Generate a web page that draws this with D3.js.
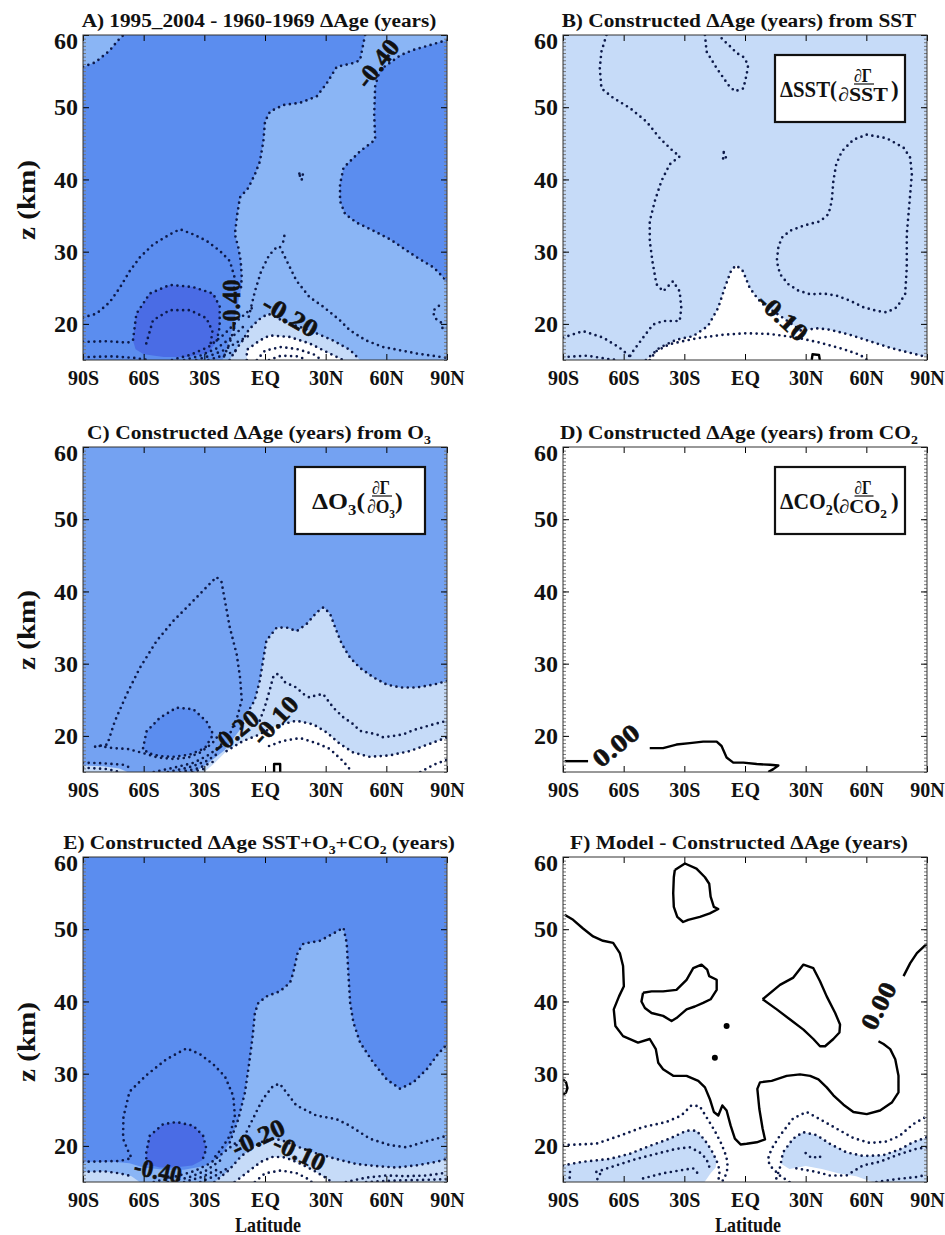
<!DOCTYPE html>
<html>
<head>
<meta charset="utf-8">
<script src="https://cdnjs.cloudflare.com/ajax/libs/d3/7.8.5/d3.min.js"></script>
<style>
  body { margin: 0; background: #fff; }
  svg text { font-family: "Liberation Serif", "Times New Roman", serif; font-weight: bold; fill: #111; }
  .dot { fill: none; stroke: #0d1a4a; stroke-width: 2.7; stroke-dasharray: 0 5.7; stroke-linecap: round; stroke-linejoin: round; }
  .solid { fill: none; stroke: #000; stroke-width: 2.4; stroke-linejoin: round; }
  .clab { stroke: #111; stroke-width: 0.6; }
</style>
</head>
<body>
<svg id="fig" width="945" height="1235"></svg>
<script>
// ---- axes values
const latTicks = [-90, -60, -30, 0, 30, 60, 90];
const latLabels = ["90S", "60S", "30S", "EQ", "30N", "60N", "90N"];
const zTicks = [20, 30, 40, 50, 60];

// fill colours (contour bands)
const shade = { D: "#4a6ce5", M: "#5b8def", C: "#74a2f2", L: "#8ab5f5", P: "#c6dbf8", W: "#ffffff" };

// ---- panel A : [lat, z] points
const A_cornerLine = [[-90,55.6],[-84,56.2],[-77,57.8],[-72.5,59.3],[-70,60]];
const A_lightWest = [[49.5,60],[47,56.5],[43.5,56.1],[35.5,55.6],[30.5,53.3],[25.6,51.5],[17.3,50.6],[9.1,50.3],[2.5,49.4],[0,48],[-0.8,45.3],[-2.5,42.5],[-5,40.7],[-8.3,38.8],[-12.4,37.5],[-13.7,35.2],[-14.9,32.4],[-13.2,30.6],[-12,28.7],[-11.5,26.4],[-12,24.6]];
const A_lightEast = [[90,59.3],[73,57.9],[67,57.2],[57,55.2],[54.5,53],[54,49],[54.5,45.5],[47,43.9],[38.8,41.6],[37.1,39.3],[37.1,37],[39.6,35.2],[45.4,34],[53.6,32.9],[61.9,31.7],[75.1,29.2],[83.4,27.8],[88.3,26.4],[90,25.7]];
const A_arch = [[-90,20.9],[-83.4,21.4],[-76.8,23],[-71.8,25],[-66.9,27.3],[-61.9,29.2],[-55.3,31],[-47,32.4],[-42.1,33.1],[-35.5,32.4],[-28.9,31.5],[-22.3,30.1],[-17.4,28.7],[-15,26.4],[-15.3,25]];
const A_archFoot = [[-15.5,19.2],[-17.5,17.3],[-19.5,16],[-21,15]];
const A_darkOuter = [[-90,17.5],[-78,17.6],[-68,17.4],[-65.3,17.7],[-63.6,21.4],[-57,24.2],[-47,25.4],[-35.6,25.1],[-25.7,24.2],[-22.4,22.4],[-22.4,19.6],[-24,17.5]];
const A_darkFill = [[-65.3,17.7],[-63.6,21.4],[-57,24.2],[-47,25.4],[-35.6,25.1],[-25.7,24.2],[-22.4,22.4],[-22.4,19.6],[-24,17.5],[-28,16],[-38,15.4],[-50,15.4],[-60,15.8],[-64,16.5]];
const A_darkInner = [[-58.7,17.3],[-55.4,20.5],[-47.1,21.9],[-37.2,21.9],[-29,20.8],[-26,19],[-27,17]];
const A_bottomLine = [[-90,15.4],[-75,15.5],[-65,15.3],[-58,15]];
const A_paleEdge = [[-17.5,15],[-14,16.6],[-11,17.7],[-8,19.2],[-3,20.6],[1.5,21.4],[5,21],[10,20.2],[17.2,19.6],[25.4,18.7],[33.7,17.7],[42,16.4],[47,15]];
const A_whiteEdge = [[-9,15],[-9,16.4],[-2.6,17.7],[2.3,18.4],[12,18.2],[22,17.3],[32,15.9],[38.6,15]];
const A_tongue = [[-8,21],[-5,24.5],[-2,27.2],[2,29.5],[5.7,30.6],[7.3,30.7],[10.6,28.8],[15.5,26],[22,23.7],[28.7,22.4],[37,20.5],[42,19.1],[50,17.7],[58.4,16.8],[75,15.9],[90,15.3]];
const A_hatch = [
  [[-46,15],[-37,15.7],[-28,16.8],[-20,18.6],[-13,20.6],[-6,22.3]],
  [[-40,15],[-32,15.6],[-24,16.6],[-17,18],[-10,19.8]],
  [[-34,15],[-27,15.6],[-20,16.4],[-13,17.6],[-7,18.5]],
  [[-28,15],[-21,15.6],[-14,16.3]],
  [[-4,15],[0,16.3],[8,16.8],[16,16.5],[24,15.8],[28,15]],
  [[2,15],[8,15.6],[16,15.5],[21,15]]
];
const A_bits = [[[9,31.4],[9.8,32.5]], [[17,40.8],[18.5,41],[19,40.2],[17.8,39.9],[17,40.8]], [[86,22.5],[83,21.8],[84,20.8],[87,20.2],[88,19.2]]];
const A_labels = [["-0.40", 55.5, 56.1], ["-0.40", -16.6, 22.7], ["-0.20", 12.6, 21.1]];

// ---- panel B
const B_westLine = [[-68.5,60],[-71,57.7],[-71.8,55.4],[-71,52.6],[-65.2,51.3],[-57,49.9],[-48.7,48],[-42.1,45.7],[-35.5,43.9],[-32.2,43.2],[-37.2,42.1],[-41.3,39.8],[-44.6,37],[-47.1,34.2],[-47.1,31.5],[-45.8,28.7],[-43.8,25.5],[-40.5,24.5],[-35.6,25.9],[-32.3,24.5],[-31.5,22.2],[-32.3,20.4],[-40.5,20.4],[-45.5,19.9],[-50.4,18.1],[-55.4,16.2],[-58,15]];
const B_loopTop = [[-19.8,60],[-19,57.7],[-14,55.4],[-8.3,53.1],[-5,52.2],[-0.8,52.6],[0.8,54.5],[1.6,55.9],[-1,57],[-4.1,57.5],[-8,58.6],[-10.8,59.3],[-13,60]];
const B_loopEast = [[60.2,46.2],[70.1,45.7],[78.4,44.4],[81.7,43],[82.5,40.7],[81.4,37],[80,32.4],[80,27.8],[79.2,24.1],[75.1,22.3],[70.1,21.6],[65.2,21.8],[58.6,22.3],[52,23.2],[45.4,23.9],[38.8,24.2],[32.2,24.1],[26.4,24.6],[21.4,25.5],[17.3,26.9],[15.7,28.7],[16.5,30.6],[18.1,31.9],[22.3,32.9],[28.9,33.6],[37.1,34.2],[41.3,35.2],[42.9,37],[43.7,39.8],[45.1,42.1],[47.9,43.9],[53.6,45.5],[60.2,46.2]];
const B_whiteEdge = [[-49,15],[-42.2,16.7],[-34,17.8],[-25.7,18.3],[-18.3,19.7],[-13.3,22.2],[-10,25],[-6.7,27.5],[-4.3,28.1],[-1,27.3],[2.3,25],[6.5,23.4],[9.8,22.5],[19,20.8],[28,19],[35,19.4],[41.9,19.2],[51.8,18.5],[61.7,17.6],[71.6,16.7],[81.5,16],[90,15.4]];
const B_innerArch = [[-47.1,15],[-44,16.2],[-37.2,17.2],[-24,18],[-10.8,18.5],[0.8,18.7],[12.4,18.6],[25.6,18.1],[37.1,17.4],[48.7,16.5],[57,15.7],[60.2,15]];
const B_leftLine = [[-90,18.1],[-80.1,19],[-70.2,18.1],[-62,16.7],[-57,15.5],[-56,15]];
const B_bottomLine = [[-90,15.4],[-78,15.6],[-67,15.1],[-63,15]];
const B_bits = [[[-10.5,43.8],[-9.4,43],[-10.9,42.7],[-10.5,43.8]]];
const B_hump = [[33,15],[33.4,15.8],[36.6,15.7],[37,15]];
const B_labels = [["-0.10", 18.8, 21]];

// ---- panel C
const C_paleEdge = [[-12,21],[-9,23],[-5,25],[-2.6,27.6],[0.7,33.2],[3.3,34.1],[5.8,35],[10.7,35],[15.7,34.5],[20.6,35.5],[25.6,37.1],[28.9,37.8],[32.2,36.9],[34.7,35],[38,32.7],[42.1,30.8],[47,29.4],[53.6,28.1],[60.2,27.1],[66.8,26.7],[75.1,26.7],[83.4,27.1],[90,27.6]];
const C_whiteEdge = [[-19,17.9],[-10.8,19.3],[-4.3,20],[5.6,21.4],[15.5,22.1],[23.8,21.6],[30.4,20.5],[37,18.9],[43.6,17.7],[51.8,17.1],[61.7,17.3],[71.6,17.9],[81.5,18.9],[90,19.8]];
const C_beta = [[-2.6,22.1],[-0.1,24],[2.3,26.3],[4,28.1],[5.6,28.6],[7.4,28.4],[10,27.4],[15.5,26.7],[19,25.8],[22.1,25.3],[25,25.6],[28.7,25.8],[33.8,23.9],[38.6,22.6],[43.7,21.6],[46.9,20.7],[55.3,20.2],[58.4,19.8],[63.5,20],[68.3,20.2],[73.4,20.8],[78.2,21.2],[83.4,21.6],[90,22.1]];
const C_delta = [[2,18.6],[8.9,19.3],[17.3,19.7],[22.1,19.3],[27.2,18.8],[32,18.2],[38.6,16.5],[41.9,15.4],[42.5,15]];
const C_edgeSE = [[76.8,15],[83.4,16],[90,16.7]];
const C_tall = [[-84,18.5],[-78,18.8],[-74.3,22],[-68.5,25.7],[-61.9,29.4],[-53.7,33.1],[-45.4,35.9],[-37.2,38.2],[-28.9,40.6],[-24,42],[-21.5,41.3],[-19.8,38.7],[-17.4,35],[-14,31.3],[-12.3,28],[-11.5,25],[-13.5,22.8],[-17,20.5]];
const C_under = [[-81.7,18.6],[-75,18.3],[-68,18.2],[-60,17.6],[-53,17],[-45,16.8],[-38,17],[-32,17.7],[-26,19],[-21,20.8]];
const C_blob = [[-60.3,18.3],[-58.6,20.6],[-52,22.5],[-43.8,23.9],[-35.5,23.7],[-28.9,22],[-25.6,20.2],[-29.7,18.3],[-37.2,17.4],[-45.4,17.1],[-52,17.2],[-57.8,17.6],[-60.3,18.3]];
const C_strip = [[-90,15],[-90,15.9],[-80,15.8],[-72,15.5],[-68,15]];
const C_hatch = [
  [[-90,16.3],[-80,16.2],[-70,16],[-66,15.5]],
  [[-90,15.6],[-78,15.4],[-72,15]],
  [[-55,15],[-45,15.6],[-35,16.3],[-27,17.5],[-20,19.2]],
  [[-48,15],[-38,15.6],[-29,16.5],[-22,17.8]],
  [[-42,15],[-33,15.5],[-25,16.5]],
  [[-36,15],[-28,15.6]]
];
const C_marker = [[4.5,15],[4.5,16.1],[7.5,16.1],[7.5,15]];
const C_labels = [["-0.20", -15, 20.6], ["-0.10", 4.8, 22.2]];

// ---- panel D
const D_zeroWest = [[-89.2,16.5],[-77.6,16.5]];
const D_zeroMid = [[-47.1,18.3],[-40.5,18.3],[-33.9,18.8],[-27.3,19],[-20.7,19.2],[-14,19.2],[-11.6,18.6],[-9.1,17],[-5.8,16.3],[-0.8,16.3],[5.8,16.1],[12.4,16],[16.5,15.9],[14,15.4],[11.5,15]];
const D_labels = [["0.00", -63.9, 18.7]];

// ---- panel E
const E_lightEdge = [[-17.4,20.5],[-13.2,23.7],[-9.9,27.4],[-7.8,31.5],[-6.1,35.2],[-5,38.4],[-3.3,39.8],[0.8,40.7],[7.4,41.4],[12.4,42.6],[14,44],[16.2,46.8],[19,48],[27.2,48.4],[33.8,49.4],[38.8,50.2],[40.4,48.1],[41.3,43.5],[42.1,39.8],[43.7,37.1],[47,34.3],[53.6,31.5],[60.2,29.2],[66.8,27.9],[73.4,28.8],[80,30.6],[85,32.5],[90,34.1]];
const E_darkLine = [[-58.7,17.5],[-58.7,19.1],[-57,21.4],[-50.4,23],[-43.8,23.3],[-35.5,22.8],[-30.6,21.4],[-29,19.6],[-31,18]];
const E_darkFill = [[-58.7,17.5],[-58.7,19.1],[-57,21.4],[-50.4,23],[-43.8,23.3],[-35.5,22.8],[-30.6,21.4],[-29,19.6],[-31,18],[-36,17.3],[-45,17],[-52,17]];
const E_arch = [[-90,17.8],[-72,17.9],[-66,18.3],[-68,19.5],[-70.2,21],[-70,24],[-67,27.5],[-58.6,29.8],[-48.7,32],[-38.8,33.5],[-32.2,32.7],[-25.6,31.3],[-19.8,29.6],[-15.7,26.9],[-14.9,24.2],[-17.4,21.4],[-21.5,19.6],[-25.6,18.2]];
const E_gamma = [[-14.1,20.1],[-9.2,21.9],[-4.3,24.7],[-1,26.5],[4,28.3],[7.3,28.6],[10.6,27.4],[15.5,25.6],[25.4,24.2],[35.3,23.7],[41.9,22.8],[51.8,21],[61.7,20.1],[69.9,19.8],[78.2,20.5],[84.8,21],[90,21.4]];
const E_paleEdge = [[-25,15],[-18,16.6],[-12,18.5],[-6,19.8],[0,20.8],[5,21],[10,20.6],[17,19.8],[25,19],[35,18.2],[45,17.5],[55,17.2],[65,17],[75,17.3],[85,17.8],[90,18.2]];
const E_whiteEdge = [[-15,15],[-8,16.5],[-2,17.8],[4,18.5],[10,18.4],[17,17.6],[24,16.6],[30,15.6],[33,15]];
const E_strip = [[-90,15],[-90,16.4],[-80,16.5],[-72,16.2],[-66,15.8],[-62,15]];
const E_hatch = [
  [[-90,16.4],[-80,16.5],[-72,16.2],[-66,15.8]],
  [[-55,15],[-45,15.7],[-35,16.5],[-27,17.6],[-20,19.2],[-14,20.5]],
  [[-48,15],[-38,15.6],[-29,16.6],[-22,18]],
  [[-40,15],[-31,15.7],[-23,16.8]],
  [[-32,15],[-25,15.8],[-18,17]],
  [[-5,15],[0,16.2],[8,16.6],[16,16.2],[22,15.3],[23,15]],
  [[40,15],[50,15.6],[60,15.9],[70,15.8],[80,15.9],[90,16.3]],
  [[50,15],[65,15.2],[80,15.3],[90,15.4]]
];
const E_labels = [["-0.40", -52.9, 16.6], ["-0.20", -3.5, 21.2], ["-0.10", 17.1, 19.1]];

// ---- panel F
const F_loopTop = [[-34.7,58.2],[-29.7,59.1],[-24,58.4],[-19.8,57.2],[-17.7,56.3],[-17,54.5],[-15.4,53.1],[-13.2,52.8],[-17.4,52.2],[-22.3,51.7],[-28.1,51.3],[-30.6,51],[-33.5,51.7],[-35.2,53.1],[-35.5,55],[-35.2,57.2],[-34.7,58.2]];
const F_zeroMain = [[-89.2,52],[-85,51.3],[-80.1,50.1],[-75.1,49],[-70.2,48.4],[-65.2,48.1],[-61.9,46.7],[-60.3,44.9],[-59.9,42.1],[-62.3,40.7],[-64.9,38.9],[-64.1,36.6],[-60.3,35.2],[-52.9,34.3],[-47.1,34.8],[-44.1,33.4],[-42.9,31.5],[-40.5,30.6],[-35.5,29.7],[-28.9,29.7],[-23.1,29],[-19.8,28.1],[-17.4,26.5],[-15.4,24.7],[-13.2,24.2],[-11.2,25.6],[-9.1,24.9],[-7.1,22.8],[-5,21],[-2.2,20.2],[0.8,20.3],[5.8,20.5],[9.9,20.9],[8.7,22.4],[7.1,25.1],[6.1,27.9],[7.4,28.8],[13.2,29],[20.6,29.7],[27.2,29.9],[32.2,29.7],[36.3,29.2],[40.4,28.1],[43.7,27],[48.7,25.7],[53.6,24.7],[60.2,24.4],[66.8,24.9],[72.6,26],[75.9,27.4],[75.9,29.7],[74.3,32],[71.8,33.4],[68.5,34.1],[66,34.5]];
const F_zeroEast = [[78.4,43.5],[81.7,45.3],[85,46.7],[89.2,47.8],[90,47.9]];
const F_loopWest = [[-50.4,41.2],[-46.2,41.4],[-40.5,41.4],[-33.9,41.6],[-28.9,43],[-25.6,44.6],[-21.5,45.1],[-18.7,44.4],[-17.7,43.5],[-14,43],[-14,41.6],[-17,40.3],[-20.7,39.8],[-24.8,39.3],[-28.9,38.9],[-33.9,37.7],[-36.3,37.3],[-40.5,38],[-46.2,38.4],[-49.5,39.1],[-51.2,40],[-50.4,41.2]];
const F_loopEast = [[8.7,40.3],[17.3,42.3],[23.9,43.3],[28.9,45.1],[33.8,44.6],[37.1,42.8],[40.4,40.7],[44.6,38.4],[47,36.8],[46.7,35.7],[43.7,34.8],[39.6,33.8],[37.1,33.8],[33.8,34.8],[28.9,36.1],[22.3,37.5],[15.7,38.9],[8.7,40.3]];
const F_edgeLoop = [[-90,29.2],[-88.5,28.8],[-87.8,28],[-88.5,27.4],[-90,27.1]];
const F_spots = [[-9.1,36.6],[-14.9,32.2]];
const F_d1 = [[-90,20.1],[-73.5,20.3],[-62,21.4],[-50.4,22.6],[-38.9,23.3],[-31.5,24.2],[-26.5,25.6],[-22.4,25.5],[-19.1,24],[-15,22.1],[-11.7,20.3],[-9.2,18.5],[-8.5,17],[-10,15.6],[-11.5,15]];
const F_d2 = [[-90,17.3],[-80.1,17.8],[-66.9,18.2],[-57,18.9],[-47.1,20],[-37.2,21],[-29,22.1],[-24,22.1],[-19.9,20.8],[-16.6,19.4],[-14.1,18],[-12.5,16.6],[-13,15.5],[-13.5,15]];
const F_d3 = [[-73.5,16.4],[-63.6,17.3],[-53.7,18.2],[-43.8,18.9],[-33.9,19.6],[-27.3,19.8],[-22.4,19.1],[-19.1,18.2],[-17.4,16.9]];
const F_d3b = [[-50.4,15.5],[-40.5,16.2],[-32.3,16.6],[-25.7,16.9],[-22.4,15.9]];
const F_d4 = [[22,15],[17.2,15.9],[12.2,17.3],[11.4,18.2],[13,19.5],[17.2,21.4],[23.8,23.8],[30.4,24.7],[37,23.7],[45.2,22.4],[53.5,21.1],[61.7,20.4],[69.9,20.6],[76.5,21.4],[83.1,23],[90,24.1]];
const F_d5 = [[15.5,15.5],[17.2,16.9],[18.8,19.1],[23.8,21],[28.7,21.9],[35.3,21.5],[41.9,20.3],[50.2,19.1],[58.4,18.6],[68.3,18.7],[76.5,19.5],[83.1,20.5],[90,21.2]];
const F_d6 = [[25.4,16.9],[35.3,16.4],[41.9,15.9],[50.2,15.9],[58.4,17.3],[66.7,17.8],[74.9,18.7],[84.8,19.6],[90,19.8]];
const F_bits = [[[30,19],[33,18.3],[37,18.6],[38,17.8]], [[65,15],[75,15.4],[85,15.7],[90,16]], [[-86.7,15.6],[-86.5,16.6]], [[-73,15.4],[-71.5,16.2]]];
const F_paleWest = [[-90,15],[-90,17.3],[-80.1,17.8],[-66.9,18.2],[-57,18.9],[-47.1,20],[-37.2,21],[-29,22.1],[-24,22.1],[-19.9,20.8],[-16.6,19.4],[-14.1,18],[-14.5,17],[-17,16.2],[-20,15]];
const F_paleEast = [[18.8,19.1],[23.8,21],[28.7,21.9],[35.3,21.5],[41.9,20.3],[50.2,19.1],[58.4,18.6],[68.3,18.7],[76.5,19.5],[83.1,20.5],[90,21.2],[90,15],[63,15],[55,15.8],[46,16.2],[38,16.8],[30,17.2],[22,16.8],[18,17.5]];
const F_labels = [["0.00", 65.9, 39.4]];

// ---- layout of the six panels
const PW = 364, PH = 325;
const panels = [
  { id: "A", x0: 83, y0: 35, bg: "M",
    title: [["A) 1995_2004 - 1960-1969 ΔAge (years)"]], titleW: 355,
    fills: [["L", [[-90, 60], ...A_cornerLine]],
            ["L", [[90, 60], ...A_lightEast, [90, 15], [-21, 15], [-18.5, 17], [-15.5, 20], ...[...A_lightWest].reverse()]],
            ["D", A_darkFill], ["P", A_paleEdge], ["W", A_whiteEdge]],
    dotted: [A_cornerLine, A_lightWest, A_lightEast, A_arch, A_archFoot, A_darkOuter, A_darkInner, A_bottomLine, A_paleEdge, A_whiteEdge, A_tongue, ...A_hatch, ...A_bits],
    solid: [], spots: [], labels: A_labels, rot: [-52, -90, 30], lw: [54, 50, 60], yTitle: 200 },
  { id: "B", x0: 563, y0: 35, bg: "P",
    title: [["B) Constructed ΔAge (years) from SST"]], titleW: 355,
    fills: [["W", [...B_whiteEdge, [90, 15]]]],
    dotted: [B_westLine, B_loopTop, B_loopEast, B_whiteEdge, B_innerArch, B_leftLine, B_bottomLine, ...B_bits],
    solid: [B_hump], spots: [], labels: B_labels, rot: [43], lw: [59],
    legend: { lead: [["ΔSST("]], den: [["∂SST"]], leadX: 5, leadW: 57, fracX: 88, numW: 18, denW: 50, closeX: 116 } },
  { id: "C", x0: 83, y0: 447, bg: "C",
    title: [["C) Constructed ΔAge (years) from O"], ["3", 1]], titleW: 344,
    fills: [["P", [[-35, 15], [-30, 15.8], [-20, 18], ...C_paleEdge, [90, 15]]],
            ["W", [[-30, 15], [-25, 16.2], ...C_whiteEdge, [90, 15]]],
            ["M", C_blob], ["P", C_strip]],
    dotted: [C_paleEdge, C_whiteEdge, C_beta, C_delta, C_edgeSE, C_tall, C_under, C_blob, ...C_hatch],
    solid: [C_marker], spots: [], labels: C_labels, rot: [-39, -47], lw: [54, 56], yTitle: 630,
    legend: { lead: [["ΔO"], ["3", 1], ["("]], den: [["∂O"], ["3", 1]], leadX: 17, leadW: 53, fracX: 86, numW: 18, denW: 28, closeX: 100 } },
  { id: "D", x0: 563, y0: 447, bg: "W",
    title: [["D) Constructed ΔAge (years) from CO"], ["2", 1]], titleW: 358,
    fills: [], dotted: [], solid: [D_zeroWest, D_zeroMid], spots: [],
    labels: D_labels, rot: [-39], lw: [53],
    legend: { lead: [["ΔCO"], ["2", 1], ["("]], den: [["∂CO"], ["2", 1]], leadX: 5, leadW: 60, fracX: 88, numW: 17, denW: 48, closeX: 116 } },
  { id: "E", x0: 83, y0: 857, bg: "M",
    title: [["E) Constructed ΔAge SST+O"], ["3", 1], ["+CO"], ["2", 1], [" (years)"]], titleW: 392,
    fills: [["L", [[-90, 15], [-90, 17.8], [-75, 17.8], [-67, 17.6], [-60, 17], [-50, 16.7], [-40, 16.7], [-30, 17.2], [-22, 18.5], ...E_lightEdge, [90, 15]]],
            ["D", E_darkFill], ["P", [...E_paleEdge, [90, 15]]], ["W", E_whiteEdge], ["P", E_strip]],
    dotted: [E_lightEdge, E_darkLine, E_arch, E_gamma, E_paleEdge, E_whiteEdge, ...E_hatch],
    solid: [], spots: [], labels: E_labels, rot: [12, -25, 25], lw: [48, 56, 55], yTitle: 1042, xTitle: true },
  { id: "F", x0: 563, y0: 857, bg: "W",
    title: [["F) Model - Constructed ΔAge (years)"]], titleW: 338,
    fills: [["P", F_paleWest], ["P", F_paleEast]],
    dotted: [F_d1, F_d2, F_d3, F_d3b, F_d4, F_d5, F_d6, ...F_bits],
    solid: [F_loopTop, F_zeroMain, F_zeroEast, F_loopWest, F_loopEast, F_edgeLoop],
    spots: F_spots, labels: F_labels, rot: [-63], lw: [50], xTitle: true }
];

const svg = d3.select("#fig");
const x = d3.scaleLinear().domain([-90, 90]).range([0, PW]);
const y = d3.scaleLinear().domain([15, 60]).range([PH, 0]);
const line = d3.line().x(d => x(d[0])).y(d => y(d[1]));
const ring = d3.line().x(d => x(d[0])).y(d => y(d[1])).curve(d3.curveLinearClosed);

// writes [text, isSub] parts into a text element
function addParts(t, parts, size) {
  let low = false;
  parts.forEach(([s, sub]) => {
    const ts = t.append("tspan").text(s);
    if (sub && !low) { ts.attr("dy", size * 0.25).style("font-size", (size * 0.65) + "px"); low = true; }
    else if (sub) ts.style("font-size", (size * 0.65) + "px");
    else if (low) { ts.attr("dy", -size * 0.25); low = false; }
  });
}

// stretch a text horizontally to the width seen in the figure
function fitText(t, cx, cy, w, rot) {
  const k = w / t.node().getComputedTextLength();
  t.attr("transform", `translate(${cx},${cy}) rotate(${rot || 0}) scale(${k},1)`);
}

panels.forEach(p => {
  const g = svg.append("g").attr("transform", `translate(${p.x0},${p.y0})`);
  g.append("clipPath").attr("id", "clip" + p.id)
    .append("rect").attr("width", PW).attr("height", PH);
  const plot = g.append("g").attr("clip-path", `url(#clip${p.id})`);

  plot.append("rect").attr("width", PW).attr("height", PH).attr("fill", shade[p.bg]);
  p.fills.forEach(([k, pts]) => plot.append("path").attr("d", ring(pts)).attr("fill", shade[k]));
  p.dotted.forEach(pts => plot.append("path").attr("class", "dot").attr("d", line(pts)));
  p.solid.forEach(pts => plot.append("path").attr("class", "solid").attr("d", line(pts)));
  plot.selectAll("circle.spot").data(p.spots).enter().append("circle")
    .attr("cx", d => x(d[0])).attr("cy", d => y(d[1])).attr("r", 3).attr("fill", "#000");

  // contour labels
  p.labels.forEach((d, i) => {
    const t = plot.append("text").attr("class", "clab").attr("text-anchor", "middle").attr("dy", "0.35em")
      .style("font-size", "25px").text(d[0]);
    fitText(t, x(d[1]), y(d[2]), p.lw[i], p.rot[i]);
  });

  // legend box
  if (p.legend) {
    const L = p.legend, bx = 212, by = 20;
    g.append("rect").attr("x", bx).attr("y", by).attr("width", 130).attr("height", 67)
      .attr("fill", "#fff").attr("stroke", "#111").attr("stroke-width", 2.2);
    const lead = g.append("text").style("font-size", "23px");
    addParts(lead, L.lead, 23);
    fitText(lead, bx + L.leadX, by + 42, L.leadW);
    const num = g.append("text").attr("text-anchor", "middle").style("font-size", "18px").text("∂Γ");
    fitText(num, bx + L.fracX, by + 27, L.numW);
    g.append("line").attr("x1", bx + L.fracX - L.numW / 2).attr("x2", bx + L.fracX + L.numW / 2 + 2)
      .attr("y1", by + 29).attr("y2", by + 29).attr("stroke", "#111").attr("stroke-width", 1.2);
    const den = g.append("text").attr("text-anchor", "middle").style("font-size", "19px");
    addParts(den, L.den, 19);
    fitText(den, bx + L.fracX, by + 46, L.denW);
    g.append("text").attr("x", bx + L.closeX).attr("y", by + 42).style("font-size", "23px").text(")");
  }

  // frame and ticks
  const minor = d3.range(15, 60.01, 0.5);
  g.append("g").call(d3.axisLeft(y).tickValues(minor).tickSize(-3).tickFormat(""))
    .call(s => s.select(".domain").remove()).selectAll("line").attr("stroke", "#777");
  g.append("g").attr("transform", `translate(${PW},0)`)
    .call(d3.axisRight(y).tickValues(minor).tickSize(-3).tickFormat(""))
    .call(s => s.select(".domain").remove()).selectAll("line").attr("stroke", "#777");
  g.append("g").attr("transform", `translate(${PW},0)`)
    .call(d3.axisRight(y).tickValues(zTicks).tickSize(-6).tickFormat(""))
    .call(s => s.select(".domain").remove());
  g.append("g").call(d3.axisTop(x).tickValues(latTicks).tickSize(-6).tickFormat(""))
    .call(s => s.select(".domain").remove());

  const yAx = g.append("g").call(d3.axisLeft(y).tickValues(zTicks).tickSize(-6).tickPadding(5));
  yAx.select(".domain").remove();
  yAx.selectAll("text").style("font-size", "24px").style("font-family", null)
    .attr("y", d => d === 60 ? 6 : 0);

  const xAx = g.append("g").attr("transform", `translate(0,${PH})`)
    .call(d3.axisBottom(x).tickValues(latTicks).tickFormat((d, i) => latLabels[i]).tickSize(-6).tickPadding(11));
  xAx.select(".domain").remove();
  xAx.selectAll("text").style("font-size", "20px").style("font-family", null);

  g.append("rect").attr("width", PW).attr("height", PH).attr("fill", "none")
    .attr("stroke", "#333").attr("stroke-width", 1);

  // title
  const tt = g.append("text").attr("text-anchor", "middle").style("font-size", "19px");
  addParts(tt, p.title, 19);
  fitText(tt, 176, -8, p.titleW);

  if (p.yTitle) {
    const yt = svg.append("text").attr("text-anchor", "middle").attr("dy", "0.35em")
      .style("font-size", "25px").text("z (km)");
    fitText(yt, 26, p.yTitle, 80, -90);
  }
  if (p.xTitle) {
    const xt = svg.append("text").attr("text-anchor", "middle").style("font-size", "21px").text("Latitude");
    fitText(xt, p.x0 + 185, 1232, 66);
  }
});
</script>
</body>
</html>
